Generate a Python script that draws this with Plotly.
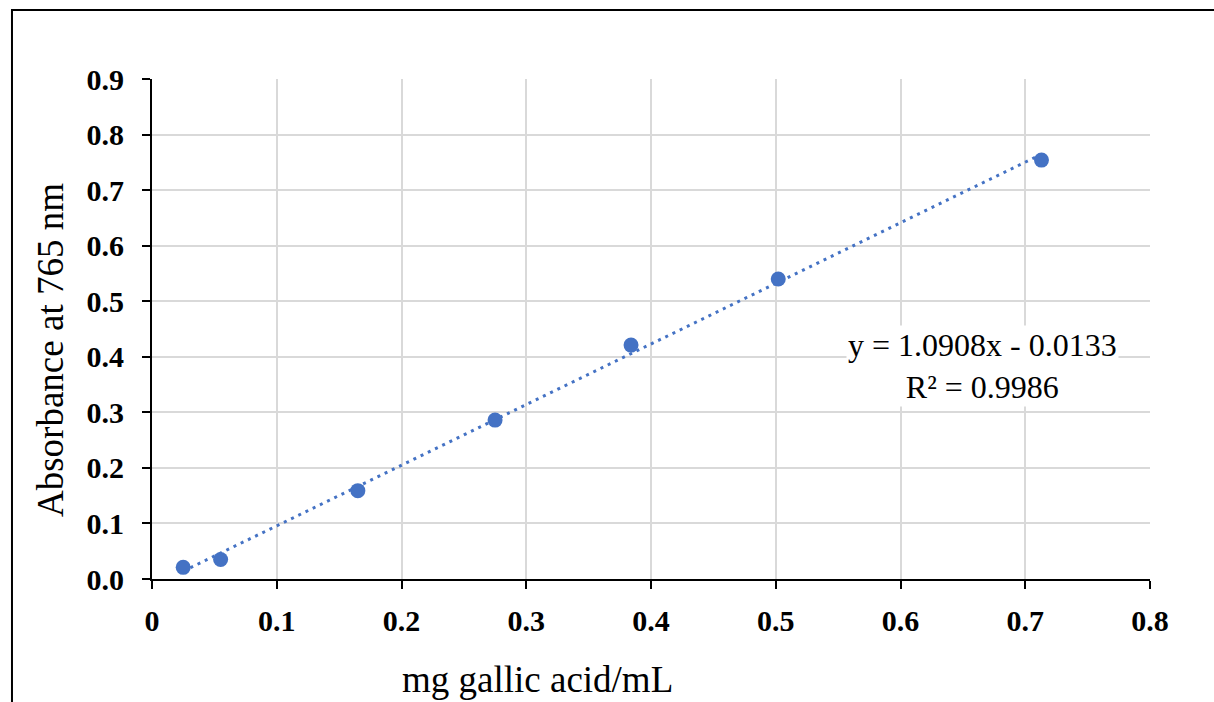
import plotly.graph_objects as go

# Data
conc_mg_per_ml = [0.025, 0.055, 0.165, 0.275, 0.384, 0.502, 0.713]
absorbance = [0.021, 0.035, 0.159, 0.286, 0.421, 0.540, 0.754]

slope = 1.0908
intercept = -0.0133
r_squared = 0.9986

x_ticks = [0, 0.1, 0.2, 0.3, 0.4, 0.5, 0.6, 0.7, 0.8]
x_tick_labels = ["0", "0.1", "0.2", "0.3", "0.4", "0.5", "0.6", "0.7", "0.8"]
y_ticks = [0, 0.1, 0.2, 0.3, 0.4, 0.5, 0.6, 0.7, 0.8, 0.9]
y_tick_labels = ["0.0", "0.1", "0.2", "0.3", "0.4", "0.5", "0.6", "0.7", "0.8", "0.9"]

BLUE = "#4472C4"
FONT = "Liberation Serif"

trend_x = [min(conc_mg_per_ml), max(conc_mg_per_ml)]
trend_y = [slope * v + intercept for v in trend_x]

fig = go.Figure()
fig.add_trace(go.Scatter(
    x=trend_x, y=trend_y, mode="lines",
    line=dict(color=BLUE, width=3, dash="3px,5px"),
    hoverinfo="skip", showlegend=False,
))
fig.add_trace(go.Scatter(
    x=conc_mg_per_ml, y=absorbance, mode="markers",
    marker=dict(color=BLUE, size=15),
    showlegend=False,
))

fig.update_layout(
    width=1214, height=702,
    margin=dict(l=152, r=64, t=79, b=123),
    paper_bgcolor="white", plot_bgcolor="white",
    font=dict(family=FONT, color="black"),
    xaxis=dict(
        range=[0, 0.8], tickvals=x_ticks, ticktext=x_tick_labels,
        showgrid=True, gridcolor="#d9d9d9", gridwidth=2,
        showline=True, linecolor="black", linewidth=2,
        ticks="outside", ticklen=8, tickwidth=2, tickcolor="black",
        tickfont=dict(family=FONT, size=30, color="black", weight="bold"),
        ticklabelstandoff=6,
        zeroline=False, fixedrange=True,
    ),
    yaxis=dict(
        range=[0, 0.9], tickvals=y_ticks, ticktext=y_tick_labels,
        showgrid=True, gridcolor="#d9d9d9", gridwidth=2,
        showline=True, linecolor="black", linewidth=2,
        ticks="outside", ticklen=8, tickwidth=2, tickcolor="black",
        tickfont=dict(family=FONT, size=30, color="black", weight="bold"),
        ticklabelstandoff=12,
        zeroline=False, fixedrange=True,
    ),
    shapes=[dict(
        type="rect", xref="paper", yref="paper",
        x0=-0.1403, x1=1.2, y0=-0.4, y1=1.138,
        line=dict(color="black", width=2), fillcolor="rgba(0,0,0,0)",
        layer="above",
    )],
    annotations=[
        dict(text=f"y = {slope:.4f}x - {abs(intercept):.4f}<br>R² = {r_squared:.4f}",
             x=0.6, y=0.4, xref="x", yref="y", xanchor="center", yanchor="middle",
             xshift=82, yshift=-9,
             showarrow=False, bgcolor="white", align="center",
             font=dict(family=FONT, size=32, color="black")),
        dict(text="mg gallic acid/mL", xref="paper", yref="paper",
             x=(537 - 152) / 998, y=(579 - 679) / 500, xanchor="center", yanchor="middle",
             showarrow=False, font=dict(family=FONT, size=37, color="black")),
        dict(text="Absorbance at 765 nm", xref="paper", yref="paper",
             x=(50 - 152) / 998, y=(579 - 350) / 500, xanchor="center", yanchor="middle",
             textangle=-90,
             showarrow=False, font=dict(family=FONT, size=37, color="black")),
    ],
)

fig.write_html("out.html")
